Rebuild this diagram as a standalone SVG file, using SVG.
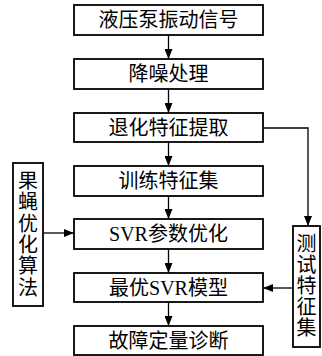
<svg xmlns="http://www.w3.org/2000/svg" width="322" height="356" viewBox="0 0 322 356">
<style>
.box{fill:#fff;stroke:#000;stroke-width:1.8}
.ln{fill:none;stroke:#000;stroke-width:1.3}
.t{font-family:"Liberation Serif","Noto Sans CJK SC",serif;font-size:20px;fill:#000;text-anchor:middle}
</style>
<defs>
<marker id="ah" viewBox="0 0 10 8" refX="10" refY="4" markerWidth="10" markerHeight="8" markerUnits="userSpaceOnUse" orient="auto">
<path d="M0,0 L10,4 L0,8 Z" fill="#000"/>
</marker>
</defs>
<rect width="322" height="356" fill="#fff"/>
<g id="connectors">
<line class="ln" x1="168.5" y1="35" x2="168.5" y2="59" marker-end="url(#ah)"/>
<line class="ln" x1="168.5" y1="89" x2="168.5" y2="113" marker-end="url(#ah)"/>
<line class="ln" x1="168.5" y1="142" x2="168.5" y2="166" marker-end="url(#ah)"/>
<line class="ln" x1="168.5" y1="196" x2="168.5" y2="219" marker-end="url(#ah)"/>
<line class="ln" x1="168.5" y1="249" x2="168.5" y2="273" marker-end="url(#ah)"/>
<line class="ln" x1="168.5" y1="302" x2="168.5" y2="326" marker-end="url(#ah)"/>
<polyline class="ln" points="263,128 308,128 308,226" marker-end="url(#ah)"/>
<line class="ln" x1="293" y1="288" x2="263" y2="288" marker-end="url(#ah)"/>
<line class="ln" x1="43" y1="233" x2="74" y2="233" marker-end="url(#ah)"/>
</g>
<g id="n1"><rect class="box" x="74" y="5" width="189" height="30"/><text class="t" x="168.5" y="27">液压泵振动信号</text></g>
<g id="n2"><rect class="box" x="74" y="59" width="189" height="30"/><text class="t" x="168.5" y="81">降噪处理</text></g>
<g id="n3"><rect class="box" x="74" y="113" width="189" height="29"/><text class="t" x="168.5" y="134.5">退化特征提取</text></g>
<g id="n4"><rect class="box" x="74" y="166" width="189" height="30"/><text class="t" x="168.5" y="188">训练特征集</text></g>
<g id="n5"><rect class="box" x="74" y="219" width="189" height="30"/><text class="t" x="168.5" y="241">SVR参数优化</text></g>
<g id="n6"><rect class="box" x="74" y="273" width="189" height="29"/><text class="t" x="168.5" y="294.5">最优SVR模型</text></g>
<g id="n7"><rect class="box" x="74" y="326" width="189" height="29"/><text class="t" x="168.5" y="347.5">故障定量诊断</text></g>
<g id="n8"><rect class="box" x="13" y="163" width="30" height="143"/>
<text class="t" x="28"><tspan x="28" y="188">果</tspan><tspan x="28" y="209.3">蝇</tspan><tspan x="28" y="230.6">优</tspan><tspan x="28" y="251.9">化</tspan><tspan x="28" y="273.2">算</tspan><tspan x="28" y="294.5">法</tspan></text></g>
<g id="n9"><rect class="box" x="293" y="226" width="27" height="121"/>
<text class="t" x="306.5"><tspan x="306.5" y="251">测</tspan><tspan x="306.5" y="272">试</tspan><tspan x="306.5" y="293">特</tspan><tspan x="306.5" y="314">征</tspan><tspan x="306.5" y="335">集</tspan></text></g>
</svg>
